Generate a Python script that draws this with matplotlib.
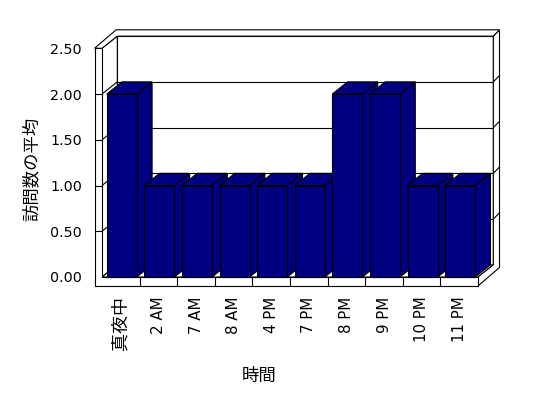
#!/usr/bin/env python3
"""Average visits per hour, drawn as an Excel-style 3D column chart."""

import matplotlib
matplotlib.use("Agg")
import matplotlib.pyplot as plt
from matplotlib.patches import Polygon
import numpy as np

plt.rcParams["font.family"] = ["DejaVu Sans", "Noto Sans CJK JP"]

categories = ["真夜中", "2 AM", "7 AM", "8 AM", "4 PM", "7 PM", "8 PM", "9 PM", "10 PM", "11 PM"]
values = [2.0, 1.0, 1.0, 1.0, 1.0, 1.0, 2.0, 2.0, 1.0, 1.0]
y_ticks = [0.0, 0.5, 1.0, 1.5, 2.0, 2.5]
y_label = "訪問数の平均"
x_label = "時間"

bar_color = "#000080"
edge = "black"
lw = 0.8

# oblique depth offsets (data units) and wall/floor thickness
d1 = np.array([0.407, 0.133])   # front -> back wall face
d2 = np.array([0.572, 0.202])   # front -> back of back wall
wall_w = 0.197
floor_t = 0.098
bar_gap = 0.125
bar_w = 0.8


def poly(ax, pts, fc, z):
    ax.add_patch(Polygon(pts, closed=True, facecolor=fc, edgecolor=edge,
                         linewidth=lw, clip_on=False, zorder=z, joinstyle="miter"))


def line(ax, p, q, z):
    ax.plot([p[0], q[0]], [p[1], q[1]], color=edge, lw=lw, clip_on=False,
            zorder=z, solid_capstyle="butt")


def main() -> None:
    fig = plt.figure(figsize=(5.48, 3.98), dpi=100)
    fig.patch.set_facecolor("white")
    ax = fig.add_axes([102 / 548, (398 - 277) / 398, 376 / 548, 228.7 / 398])
    n = len(categories)
    top = y_ticks[-1]
    ax.set_xlim(0, n)
    ax.set_ylim(0, top)
    for s in ax.spines.values():
        s.set_visible(False)
    ax.patch.set_visible(False)

    P = lambda x, y: np.array([x, y], dtype=float)

    # back wall
    poly(ax, [P(0, 0) + d1, P(n, 0) + d1, P(n, top) + d1, P(0, top) + d1], "white", 1)
    # left wall inner face
    poly(ax, [P(0, 0), P(0, top), P(0, top) + d1, P(0, 0) + d1], "white", 1.5)
    # gridlines
    for v in y_ticks[1:-1]:
        line(ax, P(0, v), P(0, v) + d1, 2)
        line(ax, P(0, v) + d1, P(n, v) + d1, 2)
    # floor top
    poly(ax, [P(0, 0), P(n, 0), P(n, 0) + d1, P(0, 0) + d1], "white", 2.5)
    # right side of floor + back wall
    poly(ax, [P(n, -floor_t), P(n, 0), P(n, 0) + d1, P(n, top) + d1,
              P(n, top) + d2, P(n, -floor_t) + d2], "white", 2.6)
    for v in y_ticks[1:-1]:
        line(ax, P(n, v) + d1, P(n, v) + d2, 2.7)
    # top face of left wall + back wall
    poly(ax, [P(-wall_w, top), P(0, top), P(0, top) + d1, P(n, top) + d1,
              P(n, top) + d2, P(-wall_w, top) + d2], "white", 2.6)
    # front face of left wall and floor slab (L shape)
    poly(ax, [P(-wall_w, -floor_t), P(n, -floor_t), P(n, 0), P(0, 0),
              P(0, top), P(-wall_w, top)], "white", 2.8)
    for i in range(1, n):
        line(ax, P(i, -floor_t), P(i, 0), 2.9)
    for v in y_ticks[1:-1]:
        line(ax, P(-wall_w, v), P(0, v), 2.9)

    # columns, left to right so each one covers the previous side face
    for i, v in enumerate(values):
        x0 = i + bar_gap
        x1 = x0 + bar_w
        z = 5 + i * 0.1
        poly(ax, [P(x1, 0), P(x1, v), P(x1, v) + d1, P(x1, 0) + d1], bar_color, z)
        poly(ax, [P(x0, v), P(x1, v), P(x1, v) + d1, P(x0, v) + d1], bar_color, z + 0.01)
        poly(ax, [P(x0, 0), P(x1, 0), P(x1, v), P(x0, v)], bar_color, z + 0.02)

    ax.set_yticks(y_ticks, [f"{t:.2f}" for t in y_ticks])
    ax.set_xticks(np.arange(n) + 0.5, categories, rotation=90)
    ax.tick_params(axis="y", length=0, pad=14.5, labelsize=10.3, labelcolor="black")
    ax.tick_params(axis="x", length=0, pad=14, labelsize=10.8, labelcolor="black")
    # the full-width label is set a little larger, as in the original
    ax.get_xticklabels()[0].set_fontsize(13)

    ax.set_ylabel(y_label, fontsize=12.5)
    ax.yaxis.set_label_coords(-0.163, 0.472)
    ax.set_xlabel(x_label, fontsize=12.5)
    ax.xaxis.set_label_coords(0.417, -0.393)

    fig.savefig("out.png", dpi=100, facecolor="white")


if __name__ == "__main__":
    main()
